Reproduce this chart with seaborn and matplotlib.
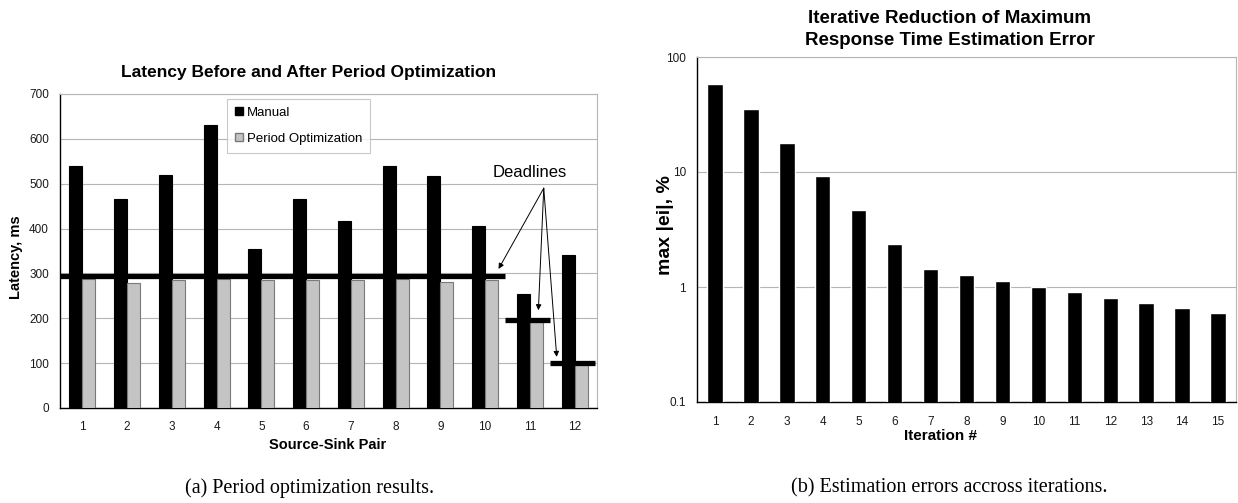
import pandas as pd
import seaborn as sns
import matplotlib.pyplot as plt
from matplotlib.patches import Patch

# Latency per source-sink pair (ms)
pairs = ['1', '2', '3', '4', '5', '6', '7', '8', '9', '10', '11', '12']
manual = [540, 466, 520, 630, 355, 467, 417, 540, 518, 405, 254, 341]
period_opt = [288, 278, 285, 288, 285, 285, 285, 288, 282, 285, 192, 97]
series_names = ['Manual', 'Period Optimization']

# deadlines: value and the range of pairs it applies to
deadline_values = [295, 196, 100]
deadline_first = [1, 11, 12]
deadline_last = [10, 11, 12]

# max |ei| per iteration (%)
iterations = [str(i) for i in range(1, 16)]
max_err = [58, 35, 18, 9.2, 4.7, 2.35, 1.42, 1.26, 1.12, 1.0, 0.9, 0.81, 0.73, 0.66, 0.59]

sns.set_style('white')
plt.rcParams['font.family'] = ['Liberation Sans', 'DejaVu Sans']
plt.rcParams['text.color'] = 'black'

df = pd.DataFrame({
    'pair': pairs * 2,
    'latency': manual + period_opt,
    'series': [series_names[0]] * len(pairs) + [series_names[1]] * len(pairs),
})

fig = plt.figure(figsize=(12.38, 5.03), dpi=100)
W, H = 1238, 503

def px(x0, y0, x1, y1):
    return [x0 / W, 1 - y1 / H, (x1 - x0) / W, (y1 - y0) / H]

# ---- (a) latency ----
ax1 = fig.add_axes(px(60, 94, 597, 408))
sns.barplot(data=df, x='pair', y='latency', hue='series', palette=['black', '#c4c4c4'],
            width=0.58, legend=False, saturation=1, ax=ax1, zorder=3)
for cont, ec in zip(ax1.containers, ['black', '#7a7a7a']):
    for bar in cont:
        bar.set_edgecolor(ec)
        bar.set_linewidth(0.8)

ax1.set_xlim(-0.5, len(pairs) - 0.5)
ax1.set_ylim(0, 700)
ax1.set_yticks(range(0, 701, 100))
ax1.yaxis.grid(True, color='#b5b5b5', lw=0.8, zorder=0)
ax1.set_axisbelow(True)
ax1.set_xlabel('')
ax1.set_ylabel('')
ax1.set_xticks(range(len(pairs)), pairs)
ax1.set_xticks([i - 0.5 for i in range(1, len(pairs))], minor=True)
ax1.tick_params(axis='x', which='major', length=0, labelsize=8.5, pad=9, colors='#1a1a1a')
ax1.tick_params(axis='x', which='minor', length=4, color='#999999')
ax1.tick_params(axis='y', length=4, color='#999999', labelsize=8.5, labelcolor='#1a1a1a', pad=4)
for s in ['top', 'right']:
    ax1.spines[s].set_color('#b5b5b5')
    ax1.spines[s].set_linewidth(0.8)
for s in ['left', 'bottom']:
    ax1.spines[s].set_color('black')
    ax1.spines[s].set_linewidth(1.0)

for val, first, last in zip(deadline_values, deadline_first, deadline_last):
    x0 = max(first - 1 - 0.56, -0.5)
    x1 = last - 1 + 0.45
    ax1.hlines(val, x0, x1, colors='black', lw=3.8, zorder=5)

ax1.text(9.17, 524, 'Deadlines', fontsize=12, va='center', ha='left')
arrow_tips = [(9.30, 310), (10.19, 218), (10.60, 114)]
for tx, ty in arrow_tips:
    ax1.annotate('', xy=(tx, ty), xytext=(10.31, 490),
                 arrowprops=dict(arrowstyle='-|>', color='black', lw=0.7,
                                 mutation_scale=8, shrinkA=0, shrinkB=0), zorder=6)

handles = [Patch(facecolor='black', edgecolor='black'),
           Patch(facecolor='#c4c4c4', edgecolor='#7a7a7a')]
leg = ax1.legend(handles, series_names, loc='upper left', bbox_to_anchor=(0.311, 0.984),
                 fontsize=9.5, frameon=True, fancybox=False, handlelength=0.6,
                 handleheight=0.6, handletextpad=0.3, labelspacing=1.05,
                 borderpad=0.6, borderaxespad=0)
leg.get_frame().set_edgecolor('#bbbbbb')
leg.get_frame().set_linewidth(0.8)

# ---- (b) estimation error ----
ax2 = fig.add_axes(px(697, 57, 1236, 402))
ax2.set_yscale('log')
sns.barplot(x=iterations, y=max_err, color='black', width=0.43, saturation=1, ax=ax2, zorder=3)
ax2.set_ylim(0.1, 100)
ax2.set_xlim(-0.5, len(iterations) - 0.5)
ax2.set_yticks([0.1, 1, 10, 100], ['0.1', '1', '10', '100'])
ax2.minorticks_off()
ax2.yaxis.grid(True, which='major', color='#b5b5b5', lw=0.8, zorder=0)
ax2.set_axisbelow(True)
ax2.set_xticks(range(len(iterations)), iterations)
ax2.set_xticks([i - 0.5 for i in range(1, len(iterations))], minor=True)
ax2.tick_params(axis='x', which='major', length=0, labelsize=8.5, pad=10, colors='#1a1a1a')
ax2.tick_params(axis='x', which='minor', length=4, color='#999999')
ax2.tick_params(axis='y', which='major', length=4, color='#999999', labelsize=8.5,
                labelcolor='#1a1a1a', pad=4)
ax2.set_xlabel('')
ax2.set_ylabel('')
for s in ['top', 'right']:
    ax2.spines[s].set_color('#b5b5b5')
    ax2.spines[s].set_linewidth(0.8)
for s in ['left', 'bottom']:
    ax2.spines[s].set_color('black')
    ax2.spines[s].set_linewidth(1.0)

# ---- texts ----
fig.text(309 / W, 1 - 73 / H, 'Latency Before and After Period Optimization',
         fontsize=12.5, fontweight='bold', ha='center', va='center')
fig.text(950 / W, 1 - 29.5 / H, 'Iterative Reduction of Maximum\nResponse Time Estimation Error',
         fontsize=13.5, fontweight='bold', ha='center', va='center', linespacing=1.45)
fig.text(16 / W, 1 - 257 / H, 'Latency, ms', fontsize=10.5, fontweight='bold',
         rotation=90, ha='center', va='center')
fig.text(665 / W, 1 - 225 / H, 'max |ei|, %', fontsize=14, fontweight='bold',
         rotation=90, ha='center', va='center')
fig.text(328 / W, 1 - 445 / H, 'Source-Sink Pair', fontsize=10.5, fontweight='bold',
         ha='center', va='center')
fig.text(941 / W, 1 - 436 / H, 'Iteration #', fontsize=11, fontweight='bold',
         ha='center', va='center')
fig.text(310 / W, 1 - 488 / H, '(a) Period optimization results.', fontsize=14.5,
         family=['Liberation Serif', 'DejaVu Serif'], ha='center', va='center')
fig.text(949 / W, 1 - 488 / H, '(b) Estimation errors accross iterations.', fontsize=14.5,
         family=['Liberation Serif', 'DejaVu Serif'], ha='center', va='center')

fig.savefig('out.png', dpi=100)
